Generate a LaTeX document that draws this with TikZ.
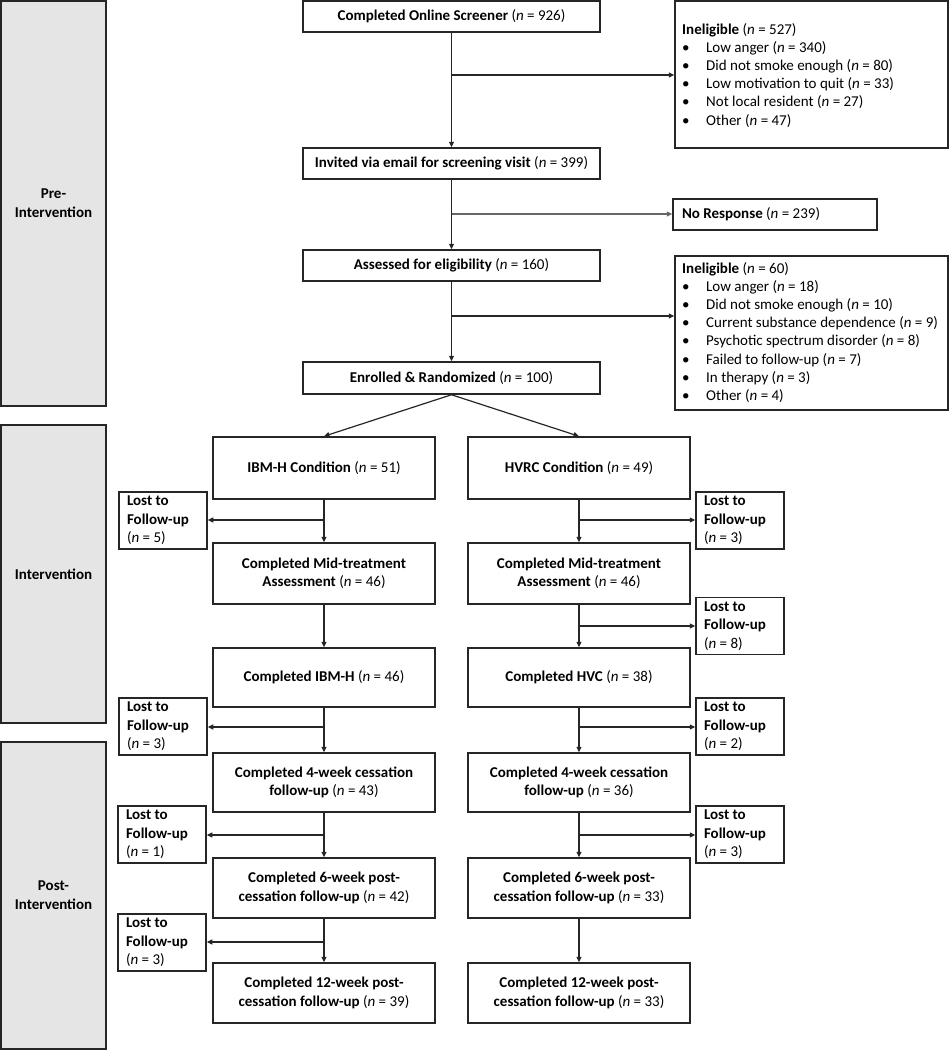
\documentclass[tikz,border=0pt]{standalone}
\usepackage{fontspec}
\setmainfont{Carlito}
\usetikzlibrary{arrows.meta}
\newcommand{\nn}[1]{(\textit{n} = #1)}
\begin{document}
\begin{tikzpicture}[x=1pt,y=-1pt,
  every node/.style={font=\fontsize{15}{18.5}\selectfont},
  box/.style={draw=black!85, line width=1.5pt, align=center, inner sep=0pt},
  side/.style={box, fill=gray!20, font=\fontsize{15}{19}\selectfont\bfseries},
  lost/.style={draw=black!85, line width=1.5pt, align=flush left, text width=72pt, inner xsep=8pt, inner ysep=0pt, minimum height=57pt, font=\fontsize{15}{18.5}\selectfont},
  listtext/.style={align=left, inner sep=0pt, anchor=north west, font=\fontsize{15}{18.2}\selectfont},
  arr/.style={-{Triangle[length=5.5pt,width=5pt]}, line width=1.2pt, draw=black!85},
]
\useasboundingbox (0,0) rectangle (949,1050);

% side panels
\node[side, minimum width=105pt, minimum height=405pt] (pre) at (53.5,203.5) {Pre-\\Intervention};
\node[side, minimum width=105pt, minimum height=298pt] (intv) at (53.5,574) {Intervention};
\node[side, minimum width=105pt, minimum height=307pt] (post) at (53.5,895.5) {Post-\\Intervention};

% top column
\node[box, minimum width=297pt, minimum height=31pt] (screen) at (451.5,16.5) {\textbf{Completed Online Screener} \nn{926}};
\node[box, minimum width=297pt, minimum height=31pt] (invite) at (451.5,163.5) {\textbf{Invited via email for screening visit} \nn{399}};
\node[box, minimum width=297pt, minimum height=31pt] (assess) at (451.5,265.5) {\textbf{Assessed for eligibility} \nn{160}};
\node[box, minimum width=297pt, minimum height=32pt] (enroll) at (451.5,378) {\textbf{Enrolled \& Randomized} \nn{100}};

% right exclusion boxes
\node[box, minimum width=273pt, minimum height=147pt] (ineA) at (811.5,74.5) {};
\node[listtext] (ineAt) at (682,23) {\textbf{Ineligible} \nn{527}\\
\makebox[24pt][l]{\textbullet}Low anger \nn{340}\\
\makebox[24pt][l]{\textbullet}Did not smoke enough \nn{80}\\
\makebox[24pt][l]{\textbullet}Low motivation to quit \nn{33}\\
\makebox[24pt][l]{\textbullet}Not local resident \nn{27}\\
\makebox[24pt][l]{\textbullet}Other \nn{47}};

\node[box, align=flush left, text width=186pt, inner xsep=9pt, minimum height=31pt] (noresp) at (775,214.5) {\textbf{No Response} \nn{239}};

\node[box, minimum width=273pt, minimum height=154pt] (ineB) at (811.5,333) {};
\node[listtext] (ineBt) at (682,262) {\textbf{Ineligible} \nn{60}\\
\makebox[24pt][l]{\textbullet}Low anger \nn{18}\\
\makebox[24pt][l]{\textbullet}Did not smoke enough \nn{10}\\
\makebox[24pt][l]{\textbullet}Current substance dependence \nn{9}\\
\makebox[24pt][l]{\textbullet}Psychotic spectrum disorder \nn{8}\\
\makebox[24pt][l]{\textbullet}Failed to follow-up \nn{7}\\
\makebox[24pt][l]{\textbullet}In therapy \nn{3}\\
\makebox[24pt][l]{\textbullet}Other \nn{4}};

% left arm
\node[box, minimum width=222pt, minimum height=62pt] (l1) at (324,468) {\textbf{IBM-H Condition} \nn{51}};
\node[box, minimum width=222pt, minimum height=61pt] (l2) at (324,573.5) {\textbf{Completed Mid-treatment}\\\textbf{Assessment} \nn{46}};
\node[box, minimum width=222pt, minimum height=59pt] (l3) at (324,677.5) {\textbf{Completed IBM-H} \nn{46}};
\node[box, minimum width=222pt, minimum height=59pt] (l4) at (324,782.5) {\textbf{Completed 4-week cessation}\\\textbf{follow-up} \nn{43}};
\node[box, minimum width=222pt, minimum height=60pt] (l5) at (324,888) {\textbf{Completed 6-week post-}\\\textbf{cessation follow-up} \nn{42}};
\node[box, minimum width=222pt, minimum height=60pt] (l6) at (324,993) {\textbf{Completed 12-week post-}\\\textbf{cessation follow-up} \nn{39}};

% right arm
\node[box, minimum width=222pt, minimum height=62pt] (r1) at (579,468) {\textbf{HVRC Condition} \nn{49}};
\node[box, minimum width=222pt, minimum height=61pt] (r2) at (579,573.5) {\textbf{Completed Mid-treatment}\\\textbf{Assessment} \nn{46}};
\node[box, minimum width=222pt, minimum height=59pt] (r3) at (579,677.5) {\textbf{Completed HVC} \nn{38}};
\node[box, minimum width=222pt, minimum height=59pt] (r4) at (579,782.5) {\textbf{Completed 4-week cessation}\\\textbf{follow-up} \nn{36}};
\node[box, minimum width=222pt, minimum height=60pt] (r5) at (579,888) {\textbf{Completed 6-week post-}\\\textbf{cessation follow-up} \nn{33}};
\node[box, minimum width=222pt, minimum height=60pt] (r6) at (579,993) {\textbf{Completed 12-week post-}\\\textbf{cessation follow-up} \nn{33}};

% lost boxes left
\node[lost] (ll1) at (163,520.5) {\textbf{Lost to}\\\textbf{Follow-up}\\\nn{5}};
\node[lost] (ll2) at (163,726.5) {\textbf{Lost to}\\\textbf{Follow-up}\\\nn{3}};
\node[lost] (ll3) at (162,834.5) {\textbf{Lost to}\\\textbf{Follow-up}\\\nn{1}};
\node[lost] (ll4) at (162,942.5) {\textbf{Lost to}\\\textbf{Follow-up}\\\nn{3}};
% lost boxes right
\node[lost] (rl1) at (740,520.5) {\textbf{Lost to}\\\textbf{Follow-up}\\\nn{3}};
\node[lost] (rl2) at (740,626) {\textbf{Lost to}\\\textbf{Follow-up}\\\nn{8}};
\node[lost] (rl3) at (740,726.5) {\textbf{Lost to}\\\textbf{Follow-up}\\\nn{2}};
\node[lost] (rl4) at (740,834.5) {\textbf{Lost to}\\\textbf{Follow-up}\\\nn{3}};

% branch points
\coordinate (b1) at (451.5,75);
\coordinate (b2) at (451.5,214);
\coordinate (b3) at (451.5,316);
\coordinate (lb1) at (324,520);
\coordinate (lb3) at (324,727);
\coordinate (lb4) at (324,835);
\coordinate (lb5) at (324,942);
\coordinate (rb1) at (579,520);
\coordinate (rb2) at (579,626);
\coordinate (rb3) at (579,727);
\coordinate (rb4) at (579,835);

% top connectors
\draw[arr] (screen) -- (invite);
\draw[arr] (invite) -- (assess);
\draw[arr] (assess) -- (enroll);
\draw[arr] (b1) -- (b1 -| ineA.west);
\draw[arr, draw=black!60] (b2) -- (b2 -| noresp.west);
\draw[arr] (b3) -- (b3 -| ineB.west);
\draw[arr] (enroll.south) -- (l1.north);
\draw[arr] (enroll.south) -- (r1.north);

% left arm connectors
\draw[arr] (l1) -- (l2);
\draw[arr] (l2) -- (l3);
\draw[arr] (l3) -- (l4);
\draw[arr] (l4) -- (l5);
\draw[arr] (l5) -- (l6);
\draw[arr] (lb1) -- (lb1 -| ll1.east);
\draw[arr] (lb3) -- (lb3 -| ll2.east);
\draw[arr] (lb4) -- (lb4 -| ll3.east);
\draw[arr] (lb5) -- (lb5 -| ll4.east);

% right arm connectors
\draw[arr] (r1) -- (r2);
\draw[arr] (r2) -- (r3);
\draw[arr] (r3) -- (r4);
\draw[arr] (r4) -- (r5);
\draw[arr] (r5) -- (r6);
\draw[arr] (rb1) -- (rb1 -| rl1.west);
\draw[arr] (rb2) -- (rb2 -| rl2.west);
\draw[arr] (rb3) -- (rb3 -| rl3.west);
\draw[arr] (rb4) -- (rb4 -| rl4.west);
\end{tikzpicture}
\end{document}
